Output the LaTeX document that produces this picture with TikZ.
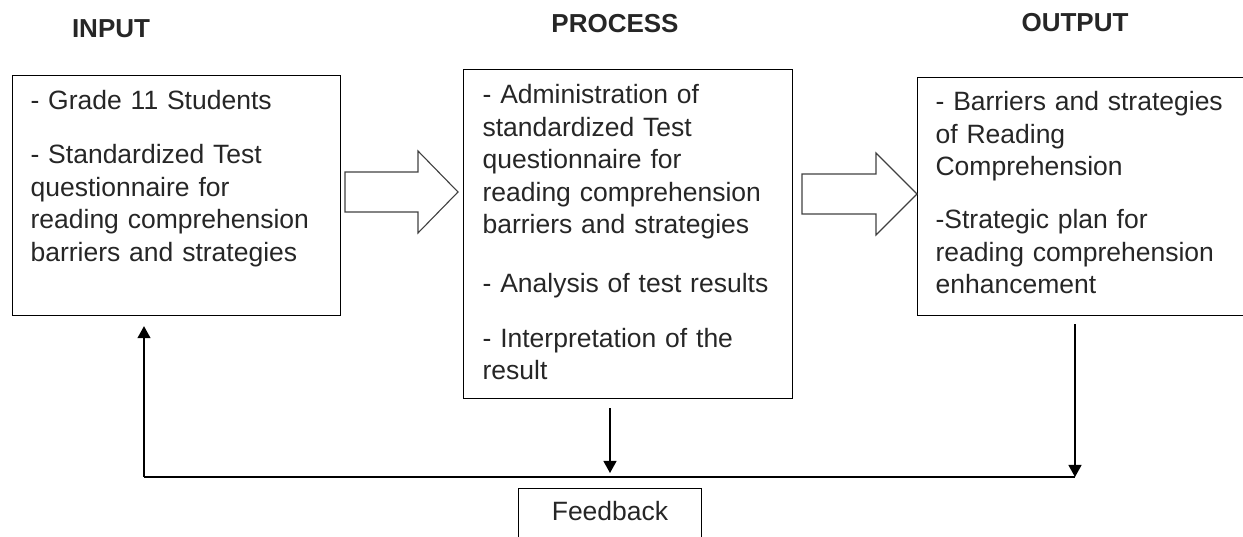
\documentclass[tikz,border=0pt]{standalone}
\usepackage{fontspec}
\setmainfont{Liberation Sans}
\usepackage{tikz}
\usetikzlibrary{calc,arrows.meta,positioning}
\newcommand{\clrtxt}{black!85}

\begin{document}
\begin{tikzpicture}[x=1pt, y=1pt,
    box/.style = {draw, line width=1.2pt, anchor=north west, inner ysep=0pt,
        align=left, text=\clrtxt, font=\fontsize{26.5pt}{32.5pt}\selectfont},
    head/.style = {anchor=base, text=\clrtxt, font=\fontsize{26pt}{30pt}\selectfont\bfseries},
    conn/.style = {line width=1.2pt},
    arr/.style = {conn, -{Triangle[width=13pt,length=12pt]}}]
    \useasboundingbox (0,0) rectangle (1243,537);

    %headings
        \node[head] (tin) at (111,499) {INPUT};
        \node[head] (tproc) at (615,504) {PROCESS};
        \node[head] (tout) at (1075,505) {OUTPUT};

    %boxes
        \node[box, inner xsep=18pt, text width=292pt, text height=34pt, text depth=206pt]
            (input) at (12,462)
            {- Grade 11 Students\\[21.5pt]
             - Standardized Test\\ questionnaire for\\ reading comprehension\\ barriers and strategies};
        \node[box, inner xsep=19pt, text width=291pt, text height=34pt, text depth=295pt]
            (process) at (463,468)
            {- Administration of\\ standardized Test\\ questionnaire for\\ reading comprehension\\ barriers and strategies\\[26pt]
             - Analysis of test results\\[22.5pt]
             - Interpretation of the\\ result};
        \node[box, inner xsep=18pt, text width=310pt, text height=33pt, text depth=205pt]
            (output) at (917,460)
            {- Barriers and strategies\\ of Reading\\ Comprehension\\[20.5pt]
             -Strategic plan for\\ reading comprehension\\ enhancement};
        \node[box, anchor=north, align=center, minimum width=183pt, text height=32pt, text depth=40pt]
            (feedback) at (610,49) {Feedback};

    %block arrows
        \foreach \bx/\hx/\tx/\ty in {345/418/458/345, 802/876/917/343} {
            \draw[line width=1.1pt, black!75, line join=miter]
                (\bx,\ty+20) -- (\hx,\ty+20) -- (\hx,\ty+41) -- (\tx,\ty)
                -- (\hx,\ty-41) -- (\hx,\ty-20) -- (\bx,\ty-20) -- cycle;
        }

    %feedback loop
        \coordinate (fbL) at (144,60);
        \coordinate (fbR) at (1075,60);
        \draw[conn] (fbL) -- (fbR);
        \draw[arr] ([yshift=-8pt]output.south -| fbR) -- (fbR);
        \draw[arr] ([yshift=-9pt]process.south -| feedback.north) -- ([yshift=4pt]feedback.north |- fbL);
        \draw[arr] (fbL) -- ([yshift=-10pt]input.south -| fbL);
\end{tikzpicture}
\end{document}
